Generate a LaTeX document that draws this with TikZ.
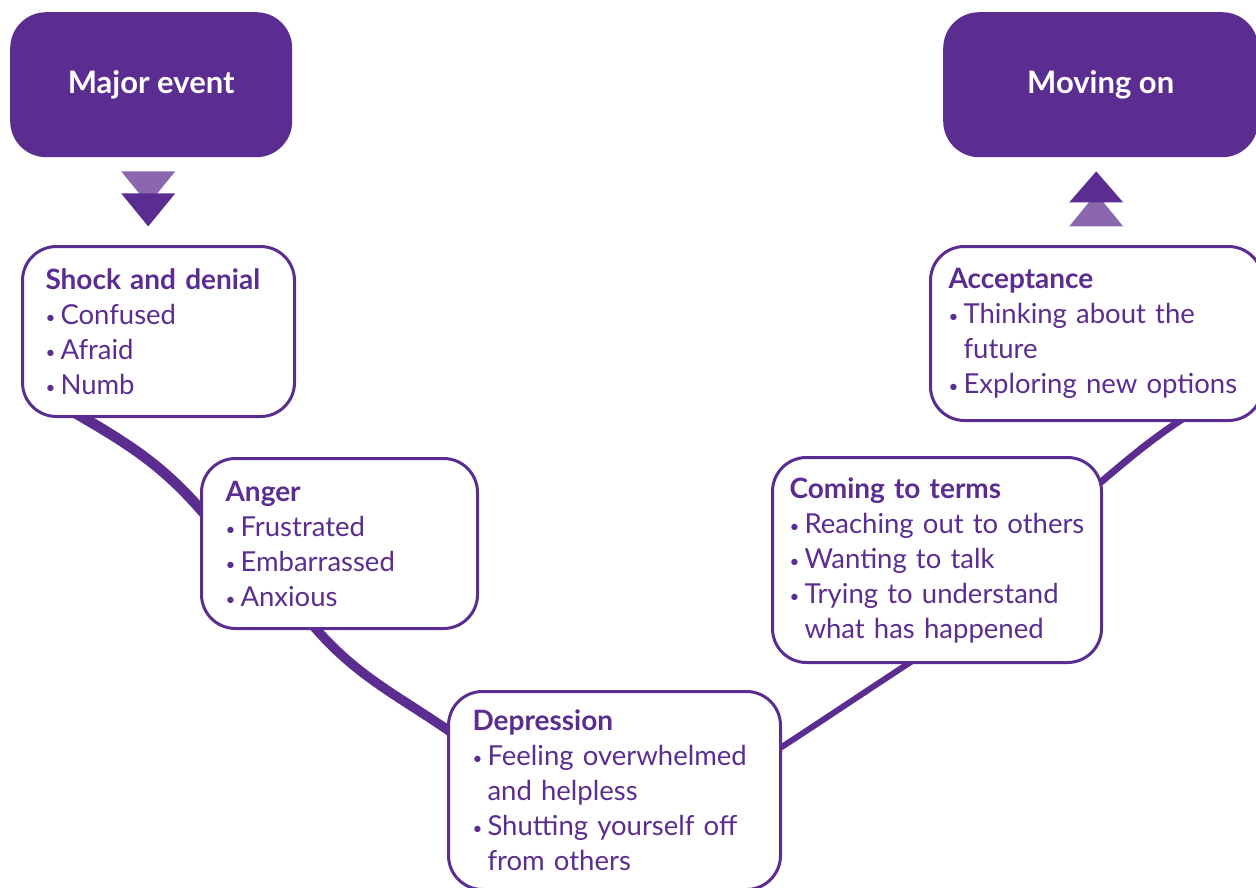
\documentclass[tikz,border=0pt]{standalone}
\usepackage{fontspec}
\setmainfont{Lato}
\usetikzlibrary{backgrounds}
\definecolor{grpurple}{HTML}{5C2D91}
\definecolor{grlilac}{HTML}{8A67AE}
\newcommand\bul{\makebox[15pt][l]{\raisebox{1pt}{\fontsize{17pt}{17pt}\selectfont\textbullet}}}
\newcommand\cont{\hspace*{15pt}}
\newcommand\phasetitle[1]{{\bfseries\fontsize{28pt}{35pt}\selectfont #1}}

\begin{document}
\begin{tikzpicture}[
  x=1pt,y=1pt,
  phase/.style={
    draw=grpurple,
    line width=3pt,
    fill=white,
    rounded corners=34pt,
    anchor=north west,
    align=left,
    inner xsep=23pt,
    inner ysep=0pt,
    text=grpurple,
    font=\fontsize{27.5pt}{35pt}\selectfont
  },
  endpoint/.style={
    fill=grpurple,
    rounded corners=36pt,
    anchor=north west,
    align=center,
    text=white,
    font=\bfseries\fontsize{31pt}{34pt}\selectfont
  },
  track/.style={draw=grpurple,line cap=butt},
  darktip/.style={fill=grpurple},
  lighttip/.style={fill=grlilac}
]
  \useasboundingbox (0,0) rectangle (1256,-888);

  \node[endpoint,minimum width=282,minimum height=145] (major) at (10,-12) {Major event};
  \node[endpoint,minimum width=315,minimum height=145] (moving) at (943,-12) {Moving on};

  \node[phase,minimum width=272,minimum height=170,text width=226] (shock) at (21,-245) {
    \phasetitle{Shock and denial}\\
    \bul Confused\\
    \bul Afraid\\
    \bul Numb
  };

  \node[phase,minimum width=276,minimum height=170,text width=228,inner xsep=24pt] (anger) at (200,-457) {
    \phasetitle{Anger}\\
    \bul Frustrated\\
    \bul Embarrassed\\
    \bul Anxious
  };

  \node[phase,minimum width=332,minimum height=198,text width=284,inner xsep=24pt] (depression) at (447,-690) {
    \phasetitle{Depression}\\
    \bul Feeling overwhelmed\\
    \cont and helpless\\
    \bul Shutting yourself off\\
    \cont from others
  };

  \node[phase,minimum width=329,minimum height=205,text width=295,inner xsep=17pt] (coming) at (771,-456) {
    \phasetitle{Coming to terms}\\
    \bul Reaching out to others\\
    \bul Wanting to talk\\
    \bul Trying to understand\\
    \cont what has happened
  };

  \node[phase,minimum width=332,minimum height=174,text width=296,inner xsep=18pt] (acceptance) at (929,-245) {
    \phasetitle{Acceptance}\\
    \bul Thinking about the\\
    \cont future\\
    \bul Exploring new options
  };

  % arrows between the end boxes and the phases
  \fill[lighttip] ([xshift=-30,yshift=-14]major.south) -- ++(54,0) -- ++(-27,-33) -- cycle;
  \fill[darktip] ([xshift=-30,yshift=-36]major.south) -- ++(54,0) -- ++(-27,-33) -- cycle;
  \fill[lighttip] ([xshift=-31.5,yshift=-69]moving.south) -- ++(54,0) -- ++(-27,33) -- cycle;
  \fill[darktip] ([xshift=-31.5,yshift=-45]moving.south) -- ++(54,0) -- ++(-27,31) -- cycle;

  % the curve through the phases
  \begin{pgfonlayer}{background}
    \draw[track,line width=10.5pt] ([xshift=49,yshift=8]shock.south west) to[out=-30,in=130] ([xshift=8,yshift=-61]anger.north west);
    \draw[track,line width=9.5pt] ([xshift=110,yshift=8]anger.south west) to[out=-50,in=145] ([xshift=8,yshift=-45]depression.north west);
    \draw[track,line width=6pt] ([xshift=-8,yshift=-62]depression.north east) to[out=33,in=-147] ([xshift=149,yshift=8]coming.south west);
    \draw[track,line width=7pt] ([xshift=-8,yshift=-31]coming.north east) to[out=40,in=-147] ([xshift=261,yshift=8]acceptance.south west);
  \end{pgfonlayer}
\end{tikzpicture}
\end{document}
